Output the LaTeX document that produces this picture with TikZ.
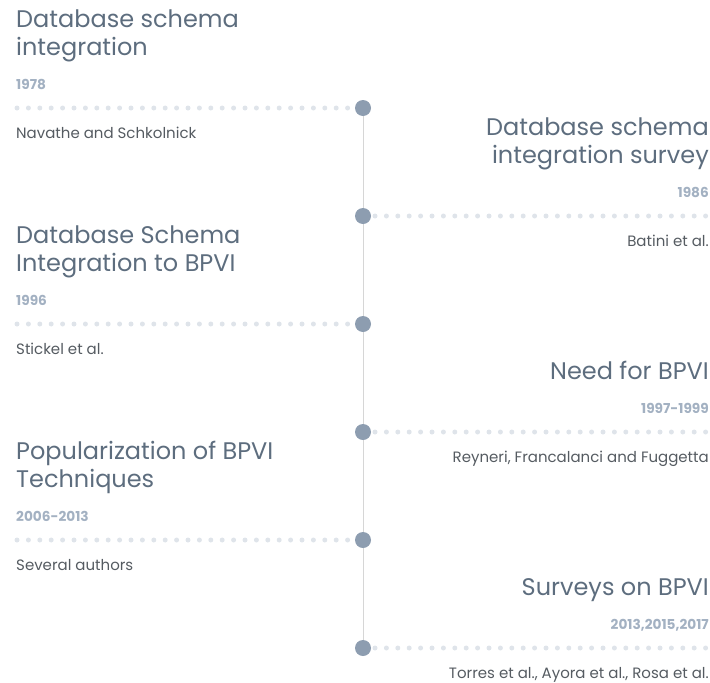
\documentclass[tikz,border=0pt]{standalone}
\usepackage{fontspec}
\setmainfont{Poppins}
\definecolor{titlec}{HTML}{5D6D7E}
\definecolor{yearc}{HTML}{A3B1C2}
\definecolor{authc}{HTML}{555B61}
\definecolor{bigdot}{HTML}{8D9DB0}
\definecolor{smalldot}{HTML}{DFE4EA}
\definecolor{linec}{HTML}{D6D6D6}
\begin{document}
\begin{tikzpicture}[x=1pt,y=-1pt,
  ttl/.style={inner sep=0pt,text=titlec,font=\fontsize{24}{28}\selectfont},
  yr/.style={inner sep=0pt,text=yearc,font=\fontsize{13.7}{15}\selectfont\bfseries},
  auth/.style={inner sep=0pt,text=authc,font=\fontsize{15}{18}\selectfont},
  bdot/.style={circle,fill=bigdot,inner sep=0pt,minimum size=16pt},
  sdot/.style={circle,fill=smalldot,inner sep=0pt,minimum size=5pt}]
\useasboundingbox (0,0) rectangle (710,683);
\foreach \i in {1,...,6} {\coordinate (p\i) at (363,{108*\i});}
\draw[linec,line width=1pt] (p1) -- (p6);
% small dots
\foreach \i in {1,3,5} {
  \foreach \k in {0,...,29} {\node[sdot] (l\i-\k) at ({17+11.4*\k},{108*\i}) {};}
}
\foreach \i in {2,4,6} {
  \foreach \k in {0,...,29} {\node[sdot] (r\i-\k) at ({375+11.4*\k},{108*\i}) {};}
}
\foreach \i in {1,...,6} {\node[bdot] (d\i) at (p\i) {};}
% entry 1
\node[ttl,anchor=base west] (t1a) at (16,27) {Database schema};
\node[ttl,anchor=base west] (t1b) at (16,55) {integration};
\node[yr,anchor=base west] (y1) at (16,89) {1978};
\node[auth,anchor=base west] (a1) at (16,138) {Navathe and Schkolnick};
% entry 2
\node[ttl,anchor=base east] (t2a) at (709,135) {Database schema};
\node[ttl,anchor=base east] (t2b) at (709,163) {integration survey};
\node[yr,anchor=base east] (y2) at (709,197) {1986};
\node[auth,anchor=base east] (a2) at (709,246) {Batini et al.};
% entry 3
\node[ttl,anchor=base west] (t3a) at (16,243) {Database Schema};
\node[ttl,anchor=base west] (t3b) at (16,271) {Integration to BPVI};
\node[yr,anchor=base west] (y3) at (16,305) {1996};
\node[auth,anchor=base west] (a3) at (16,354) {Stickel et al.};
% entry 4
\node[ttl,anchor=base east] (t4a) at (709,379) {Need for BPVI};
\node[yr,anchor=base east] (y4) at (709,413) {1997-1999};
\node[auth,anchor=base east] (a4) at (709,462) {Reyneri, Francalanci and Fuggetta};
% entry 5
\node[ttl,anchor=base west] (t5a) at (16,459) {Popularization of BPVI};
\node[ttl,anchor=base west] (t5b) at (16,487) {Techniques};
\node[yr,anchor=base west] (y5) at (16,521) {2006-2013};
\node[auth,anchor=base west] (a5) at (16,570) {Several authors};
% entry 6
\node[ttl,anchor=base east] (t6a) at (709,595) {Surveys on BPVI};
\node[yr,anchor=base east] (y6) at (709,629) {2013,2015,2017};
\node[auth,anchor=base east] (a6) at (709,678) {Torres et al., Ayora et al., Rosa et al.};
\end{tikzpicture}
\end{document}
